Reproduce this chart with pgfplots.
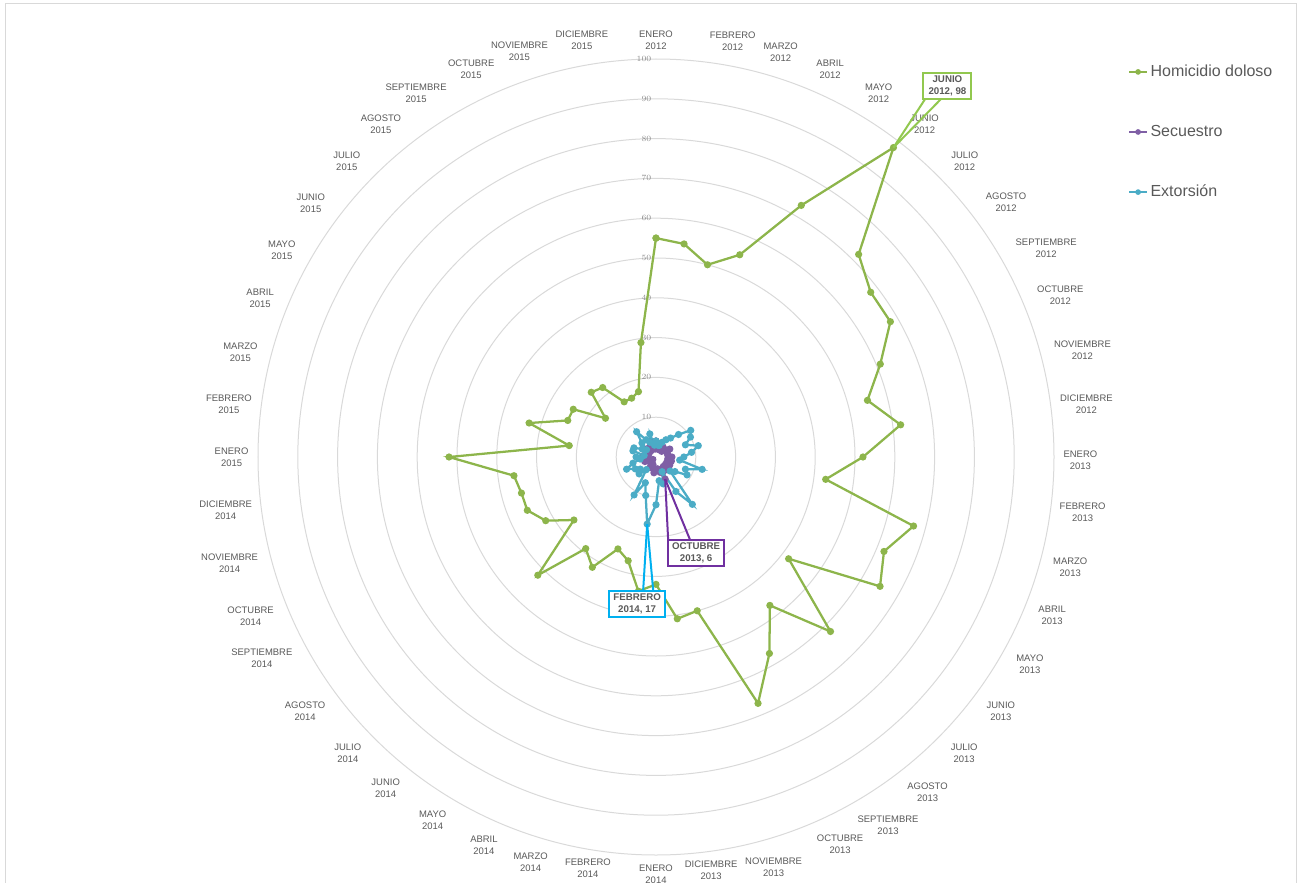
\documentclass[border=0pt]{standalone}
\usepackage{fontspec}
\setmainfont{Liberation Sans}
\usepackage{pgfplots}
\pgfplotsset{compat=1.18}
\usepackage{pgfplotstable}
\usepgfplotslibrary{polar}
\usetikzlibrary{calc}

\definecolor{hom}{HTML}{8DB54B}
\definecolor{homl}{HTML}{92C84F}
\definecolor{sec}{HTML}{7F5FA5}
\definecolor{secbox}{HTML}{7030A0}
\definecolor{ext}{HTML}{4BACC6}
\definecolor{extbox}{HTML}{00B0F0}
\definecolor{txt}{HTML}{595959}
\definecolor{gridc}{HTML}{D9D9D9}
\definecolor{rtick}{HTML}{8C8C8C}

\pgfplotstableread{
i hom sec ext
0 55 4 4
1 54 3 3
2 50 2 3
3 55 3 4
4 73 2 5
5 98 3 6
6 72 2 8
7 68 3 11
8 68 4 10
9 61 3 8
10 55 3 11
11 62 3 9
12 52 4 7
13 43 3 6
14 67 4 12
15 62 3 8
16 65 4 9
17 42 3 6
18 62 4 5
19 47 3 15
20 57 4 10
21 67 6 4
22 40 4 7
23 41 3 6
24 32 3 12
25 34 4 17
26 27 3 10
27 25 2 7
28 32 3 11
29 29 2 4
30 42 2 6
31 26 1 5
32 32 2 6
33 35 3 8
34 35 2 6
35 36 2 4
36 52 2 5
37 22 3 3
38 33 2 6
39 24 2 6
40 24 3 4
41 16 2 3
42 23 3 5
43 22 2 8
44 16 3 5
45 16 4 4
46 17 3 6
47 29 2 3
48 55 4 4
}\datatable

\begin{document}
\begin{tikzpicture}
\useasboundingbox (0,0) rectangle (975.75pt,661.5pt);
\draw[gridc, line width=0.6pt] (4pt,-2pt) -- (4pt,659pt) -- (972.5pt,659pt) -- (972.5pt,-2pt);
\begin{polaraxis}[
  at={(492pt,318.75pt)}, anchor=center,
  scale only axis, width=597pt, height=597pt,
  xmin=90, xmax=450, ymin=0, ymax=100,
  clip=false,
  axis line style={draw=none},
  major tick length=0pt,
  ymajorgrids=true, xmajorgrids=false,
  grid style={gridc, line width=0.75pt},
  ytick={0,10,20,30,40,50,60,70,80,90,100},
  yticklabel style={font=\fontsize{6}{7}\selectfont, text=rtick},
  xtick={90,100.1,108.6,115.5,123.4,129.6,136.3,143.7,151.1,158.1,165.9,173,180,187.1,194,201.4,207,215.9,223.9,230.8,238.4,246.1,252.8,260.6,270,277.6,286,295.4,302.2,309,316.1,323.6,331,338.2,345.1,352.6,359.6,367,374,381.8,388.1,396.1,403.8,411.1,418.5,425.8,432.9,439.55},
  xticklabels={{ENERO\\2012},{DICIEMBRE\\2015},{NOVIEMBRE\\2015},{OCTUBRE\\2015},{SEPTIEMBRE\\2015},{AGOSTO\\2015},{JULIO\\2015},{JUNIO\\2015},{MAYO\\2015},{ABRIL\\2015},{MARZO\\2015},{FEBRERO\\2015},{ENERO\\2015},
    {DICIEMBRE\\2014},{NOVIEMBRE\\2014},{OCTUBRE\\2014},{SEPTIEMBRE\\2014},{AGOSTO\\2014},{JULIO\\2014},{JUNIO\\2014},{MAYO\\2014},{ABRIL\\2014},{MARZO\\2014},{FEBRERO\\2014},{ENERO\\2014},
    {DICIEMBRE\\2013},{NOVIEMBRE\\2013},{OCTUBRE\\2013},{SEPTIEMBRE\\2013},{AGOSTO\\2013},{JULIO\\2013},{JUNIO\\2013},{MAYO\\2013},{ABRIL\\2013},{MARZO\\2013},{FEBRERO\\2013},{ENERO\\2013},
    {DICIEMBRE\\2012},{NOVIEMBRE\\2012},{OCTUBRE\\2012},{SEPTIEMBRE\\2012},{AGOSTO\\2012},{JULIO\\2012},{JUNIO\\2012},{MAYO\\2012},{ABRIL\\2012},{MARZO\\2012},{FEBRERO\\2012}},
  xticklabel style={align=center, font=\fontsize{7.1}{9}\selectfont, text=txt, inner sep=7pt},
  legend style={at={(axis description cs:1.093,0.996)}, anchor=north west, draw=none, fill=none,
    font=\fontsize{12}{14}\selectfont, text=txt, row sep=31pt, inner sep=0pt},
  legend cell align=left,
  legend image code/.code={\draw[mark repeat=2,mark phase=2,#1,line width=1.2pt,mark size=1.5pt] plot coordinates {(0pt,0pt) (6.75pt,0pt) (13.5pt,0pt)};},
]
\addplot[hom, line width=1.7pt, mark=*, mark size=1.8pt] table[x expr={450-7.5*\thisrow{i}}, y=hom] {\datatable};
\addlegendentry{Homicidio doloso}
\addplot[sec, line width=1.7pt, mark=*, mark size=1.8pt] table[x expr={450-7.5*\thisrow{i}}, y=sec] {\datatable};
\addlegendentry{Secuestro}
\addplot[ext, line width=1.7pt, mark=*, mark size=1.8pt] table[x expr={450-7.5*\thisrow{i}}, y=ext] {\datatable};
\addlegendentry{Extorsión}
\coordinate (pH) at (axis cs:412.5,98);
\coordinate (pS) at (axis cs:292.5,6);
\coordinate (pE) at (axis cs:262.5,17);
\end{polaraxis}
\tikzset{lbl/.style={fill=white, align=center, font=\bfseries\fontsize{7.3}{8.8}\selectfont, text=txt, minimum width=42pt, minimum height=19.5pt, inner sep=1pt, line width=1.5pt}}
\draw[homl, line width=1.5pt] (pH) -- ($(pH)+(40.5pt,46.5pt)+(-16.5pt,-9.75pt)$);
\draw[homl, line width=1.5pt] (pH) -- ($(pH)+(40.5pt,46.5pt)+(-4.5pt,-9.75pt)$);
\node[lbl, draw=homl, minimum width=36pt] at ($(pH)+(40.5pt,46.5pt)$) {JUNIO\\2012, 98};
\draw[secbox, line width=1.5pt] (pS) -- ($(pS)+(23.25pt,-55.5pt)+(-21pt,9.75pt)$);
\draw[secbox, line width=1.5pt] (pS) -- ($(pS)+(23.25pt,-55.5pt)+(-4.5pt,9.75pt)$);
\node[lbl, draw=secbox] at ($(pS)+(23.25pt,-55.5pt)$) {OCTUBRE\\2013, 6};
\draw[extbox, line width=1.5pt] (pE) -- ($(pE)+(-7.5pt,-59.6pt)+(4.5pt,10pt)$);
\draw[extbox, line width=1.5pt] (pE) -- ($(pE)+(-7.5pt,-59.6pt)+(12pt,10pt)$);
\node[lbl, draw=extbox] at ($(pE)+(-7.5pt,-59.6pt)$) {FEBRERO\\2014, 17};
\end{tikzpicture}
\end{document}
